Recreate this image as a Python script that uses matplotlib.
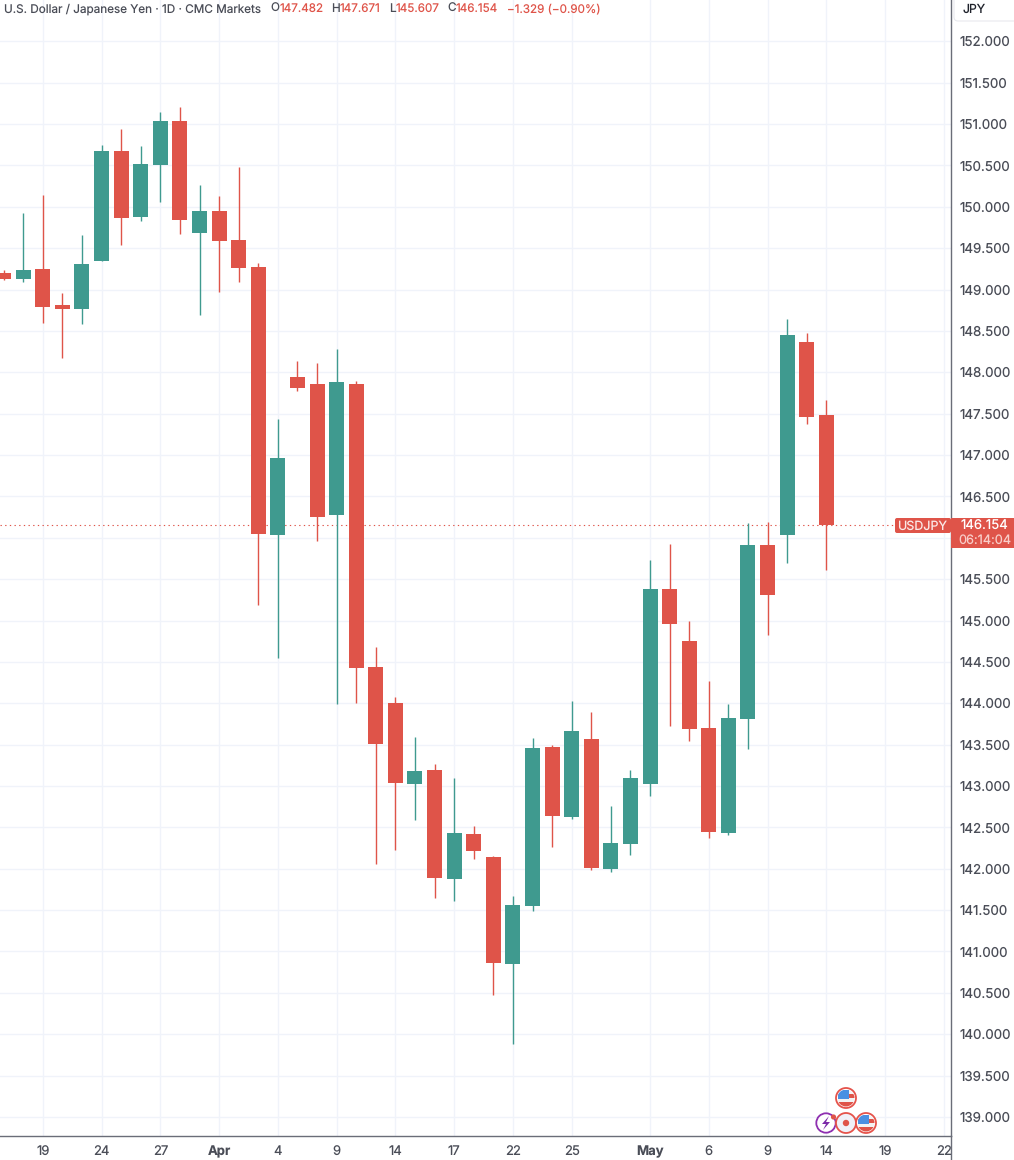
import matplotlib
matplotlib.use("Agg")
import matplotlib.pyplot as plt
from matplotlib.patches import Circle, Rectangle, FancyBboxPatch, Polygon

plt.rcParams['font.family'] = ['Inter', 'DejaVu Sans']
plt.rcParams['text.hinting'] = 'no_hinting'
plt.rcParams['text.hinting_factor'] = 1

RED = '#df5449'
GREEN = '#3f9a8f'
GRID = '#f0f3fa'
AXIS = '#6a6d78'
TEXT = '#4a4d57'

opens = [149.202, 149.13, 149.25, 148.815, 148.767, 149.347, 150.676, 149.879, 150.507, 151.039,
         149.685, 149.951, 149.601, 149.274, 146.035, 147.945, 147.86, 146.277, 147.86, 144.44,
         144.005, 143.026, 143.195, 141.877, 142.42, 142.143, 140.85, 141.55, 143.472, 142.626,
         143.57, 141.997, 142.30, 143.026, 145.382, 144.754, 143.702, 142.433, 143.811, 145.914,
         146.035, 148.368, 147.482]
closes = [149.13, 149.238, 148.79, 148.767, 149.31, 150.676, 149.867, 150.519, 151.039, 149.842,
          149.951, 149.589, 149.262, 146.047, 146.965, 147.812, 146.252, 147.884, 144.427, 143.509,
          143.038, 143.183, 141.889, 142.433, 142.215, 140.862, 141.562, 143.46, 142.638, 143.666,
          142.01, 142.312, 143.098, 145.382, 144.959, 143.69, 142.445, 143.823, 145.914, 145.31,
          148.452, 147.461, 146.154]
highs = [149.238, 149.927, 150.145, 148.96, 149.661, 150.749, 150.942, 150.737, 151.148, 151.208,
         150.265, 150.133, 150.483, 149.322, 147.437, 148.138, 148.114, 148.283, 147.896, 144.681,
         144.077, 143.594, 143.268, 143.098, 142.517, 142.155, 141.671, 143.582, 143.496, 144.029,
         143.896, 142.759, 143.195, 145.733, 145.926, 144.995, 144.27, 143.992, 146.18, 146.19,
         148.646, 148.477, 147.671]
lows = [149.117, 149.093, 148.597, 148.174, 148.585, 149.347, 149.54, 149.83, 150.06, 149.673,
        148.694, 148.972, 149.093, 145.189, 144.548, 147.776, 145.962, 143.992, 144.005, 142.058,
        142.227, 142.59, 141.648, 141.61, 142.118, 140.474, 139.88, 141.489, 142.264, 142.602,
        141.985, 141.961, 142.167, 142.88, 143.727, 143.546, 142.373, 142.409, 143.449, 144.826,
        145.696, 147.376, 145.607]

# session index of each date label on the time axis
tick_pos = [2, 5, 8, 11, 14, 17, 20, 23, 26, 29, 33, 36, 39, 42, 45, 48]
tick_labels = ['19', '24', '27', 'Apr', '4', '9', '14', '17', '22', '25', 'May', '6', '9', '14', '19', '22']
bold_ticks = ['Apr', 'May']
price_ticks = [139 + 0.5 * i for i in range(27)]
last_price = 146.154

W, H = 1014, 1160
fig = plt.figure(figsize=(W / 100, H / 100), dpi=100, facecolor='white')
ax = fig.add_axes([0, 24 / H, 951 / W, 1136 / H])
ax.set_xlim(-0.185, 48.365)
ax.set_ylim(138.77, 152.50)

for s in ['top', 'left']:
    ax.spines[s].set_visible(False)
for s in ['right', 'bottom']:
    ax.spines[s].set_color(AXIS)
    ax.spines[s].set_linewidth(1.0)

ax.yaxis.tick_right()
ax.set_yticks(price_ticks)
ax.set_yticklabels([f'{p:.3f}' for p in price_ticks], fontsize=9.6, color=TEXT)
ax.set_xticks(tick_pos)
ax.set_xticklabels(tick_labels, fontsize=9.4, color=TEXT)
for lab in ax.get_xticklabels():
    if lab.get_text() in bold_ticks:
        lab.set_fontweight('bold')
ax.tick_params(axis='both', length=0)
ax.tick_params(axis='y', pad=6)
ax.tick_params(axis='x', pad=7)
ax.grid(True, color=GRID, linewidth=1.0)
ax.set_axisbelow(True)

for i in range(len(opens)):
    col = GREEN if closes[i] >= opens[i] else RED
    ax.vlines(i, lows[i], highs[i], color=col, linewidth=1.0, zorder=3)
    ax.bar(i, abs(closes[i] - opens[i]), bottom=min(opens[i], closes[i]), width=0.766,
           color=col, linewidth=0, zorder=4)

ax.axhline(last_price, color=RED, linewidth=0.8, linestyle=(0, (1.2, 3)), zorder=2)

# overlay in pixel coordinates for header, price tag and event icons
ov = fig.add_axes([0, 0, 1, 1], facecolor='none')
ov.set_xlim(0, W)
ov.set_ylim(H, 0)
ov.axis('off')
ov.plot([951, 951], [1136, H], color=AXIS, linewidth=1.0)


def head(x, s, col, size=8.45):
    ov.text(x, 9, s, fontsize=size, color=col, va='center', ha='left')


head(4, 'U.S. Dollar / Japanese Yen · 1D · CMC Markets', TEXT)
head(270, 'O', TEXT)
head(280, '147.482', RED, 8.4)
head(331, 'H', TEXT)
head(340, '147.671', RED, 8.4)
head(389, 'L', TEXT)
head(396, '145.607', RED, 8.4)
head(447, 'C', TEXT)
head(456, '146.154', RED, 8.4)
head(507, '−1.329 (−0.90%)', RED, 8.4)

ov.add_patch(FancyBboxPatch((954, -12), 80, 33, boxstyle='round,pad=0,rounding_size=4',
                            facecolor='white', edgecolor='#e8e9ee', linewidth=0.8, zorder=5))
ov.text(974, 10, 'JPY', fontsize=8.8, color='#1f222b', ha='center', va='center', zorder=6)

# price tag
ov.add_patch(FancyBboxPatch((895, 518), 56, 15, boxstyle='round,pad=0,rounding_size=2',
                            facecolor=RED, edgecolor='none', zorder=6))
ov.text(922, 526, 'USDJPY', fontsize=9.0, color='#fbe9e7', ha='center', va='center', zorder=7)
ov.add_patch(Rectangle((951, 518), 63, 30, facecolor=RED, edgecolor='none', zorder=6))
ov.text(984, 525.5, f'{last_price:.3f}', fontsize=9.5, color='white', ha='center', va='center', zorder=7)
ov.text(985, 540, '06:14:04', fontsize=9.2, color='#f8cdc8', ha='center', va='center', zorder=7)


def flag(cx, cy):
    ring = Circle((cx, cy), 10, facecolor='white', edgecolor='#e5534b', linewidth=1.3, zorder=8)
    ov.add_patch(ring)
    clip = Circle((cx, cy), 8.5, transform=ov.transData)
    for k in range(4):
        col = RED if k % 2 == 1 else '#f3f3f3'
        st = Rectangle((cx - 8.5, cy - 8.5 + 4.25 * k), 17, 4.25, facecolor=col, edgecolor='none', zorder=9)
        ov.add_patch(st)
        st.set_clip_path(clip)
    bl = Rectangle((cx - 8.5, cy - 8.5), 11, 9, facecolor='#4a90e2', edgecolor='none', zorder=10)
    ov.add_patch(bl)
    bl.set_clip_path(clip)


flag(846, 1098)
ov.add_patch(Circle((826, 1123), 9.7, facecolor='white', edgecolor='#8e2fb0', linewidth=1.3, zorder=8))
ov.add_patch(Polygon([(829, 1116), (822, 1124), (826, 1124), (823, 1130), (830, 1122), (826, 1122)],
                     facecolor='#7b2aa8', edgecolor='none', zorder=9))
ov.add_patch(Circle((833.5, 1117), 2.6, facecolor=RED, edgecolor='none', zorder=10))
ov.add_patch(Circle((846, 1123), 10, facecolor='#f0f1f8', edgecolor='#e5534b', linewidth=1.3, zorder=8))
ov.add_patch(Circle((846, 1123), 3.2, facecolor=RED, edgecolor='none', zorder=10))
flag(866, 1123)

fig.savefig('out.png', dpi=100)
